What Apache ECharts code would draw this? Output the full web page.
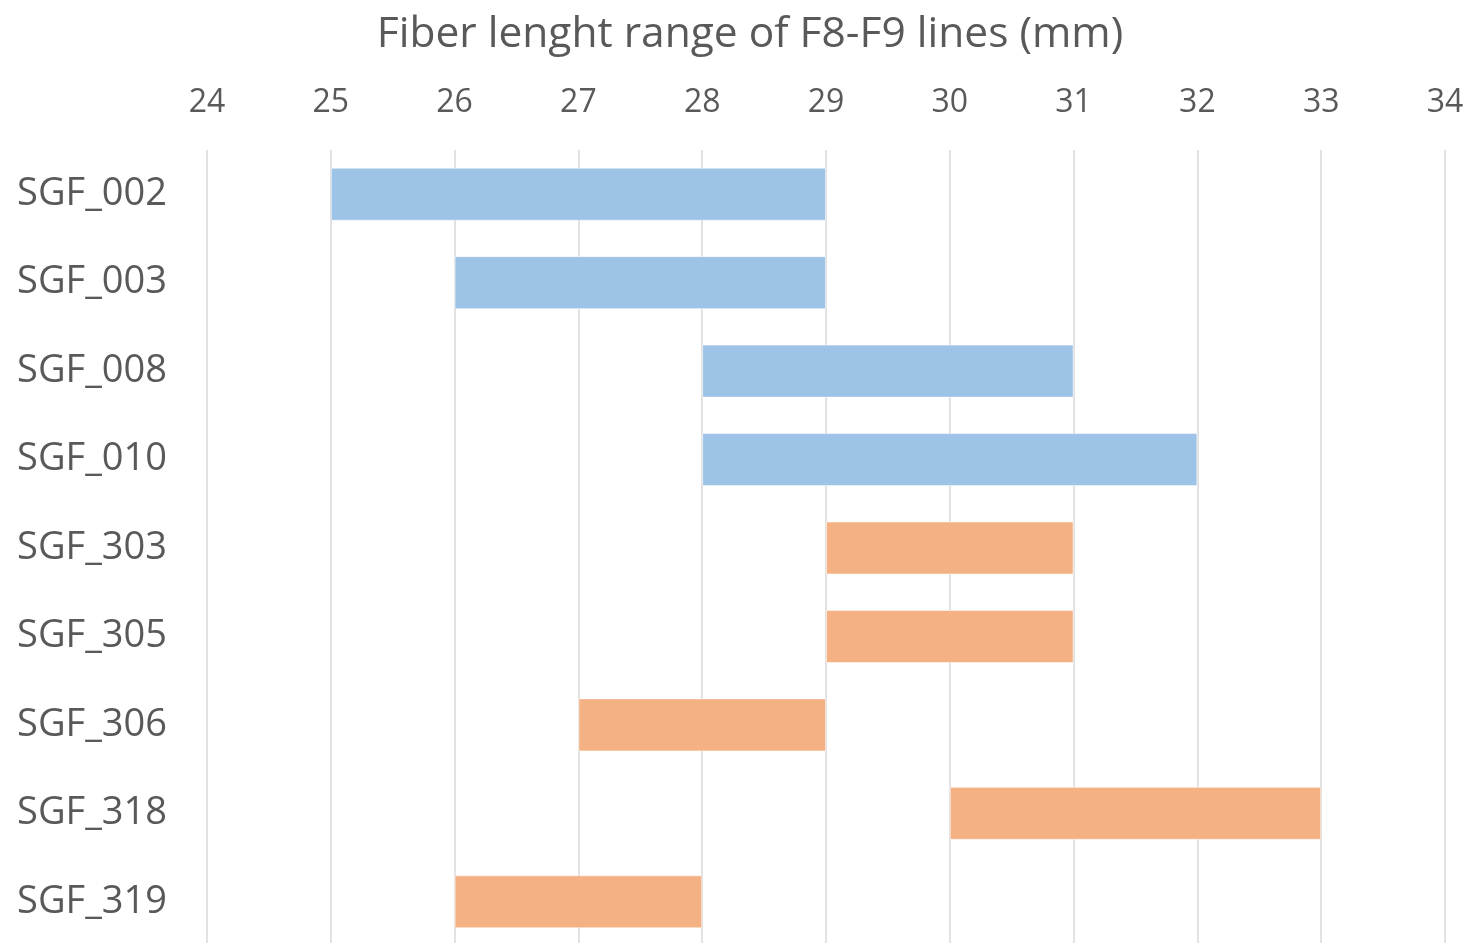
<!DOCTYPE html>
<html>
<head>
<meta charset="utf-8">
<script src="https://cdn.jsdelivr.net/npm/echarts@6/dist/echarts.min.js"></script>
<style>
html,body{margin:0;padding:0;background:#fff;}
#chart{width:1469px;height:943px;}
</style>
</head>
<body>
<div id="chart"></div>
<script>
const titleText = 'Fiber lenght range of F8-F9 lines (mm)';
const categories = ['SGF_002','SGF_003','SGF_008','SGF_010','SGF_303','SGF_305','SGF_306','SGF_318','SGF_319'];
const rangeStart = [25, 26, 28, 28, 29, 29, 27, 30, 26];
const rangeEnd   = [29, 29, 31, 32, 31, 31, 29, 33, 28];
const group      = ['F8','F8','F8','F8','F9','F9','F9','F9','F9'];
const groupColors = { F8: '#9DC3E6', F9: '#F4B183' };

const FONT = '"Open Sans", "Noto Sans", sans-serif';
const chart = echarts.init(document.getElementById('chart'), null, {renderer:'canvas'});
chart.setOption({
  animation: false,
  title: {
    text: titleText,
    left: 745, top: 8, textAlign: 'center',
    textStyle: { fontFamily: FONT, fontSize: 42.5, fontWeight: 'normal', color: '#595959' }
  },
  grid: { left: 207, top: 150, width: 1238, height: 796, outerBoundsMode: 'none', containLabel: false },
  xAxis: {
    type: 'value', position: 'top', min: 24, max: 34, interval: 1,
    axisLine: { show: false }, axisTick: { show: false },
    axisLabel: { fontFamily: FONT, fontSize: 32, color: '#595959', margin: 31 },
    splitLine: { show: true, lineStyle: { color: '#D9D9D9', width: 1.5 } }
  },
  yAxis: {
    type: 'category', data: categories, inverse: true,
    axisLine: { show: false }, axisTick: { show: false },
    axisLabel: { fontFamily: FONT, fontSize: 38, color: '#595959', margin: 40, padding: [6, 0, 0, 0] }
  },
  series: [
    {
      type: 'bar', stack: 'r', barWidth: 53, silent: true,
      itemStyle: { color: 'transparent' },
      data: rangeStart
    },
    {
      type: 'bar', stack: 'r', barWidth: 53,
      data: rangeEnd.map((e, i) => ({
        value: e - rangeStart[i],
        itemStyle: { color: groupColors[group[i]], borderColor: 'rgba(255,255,255,0.5)', borderWidth: 1 }
      }))
    }
  ]
});
</script>
</body>
</html>
